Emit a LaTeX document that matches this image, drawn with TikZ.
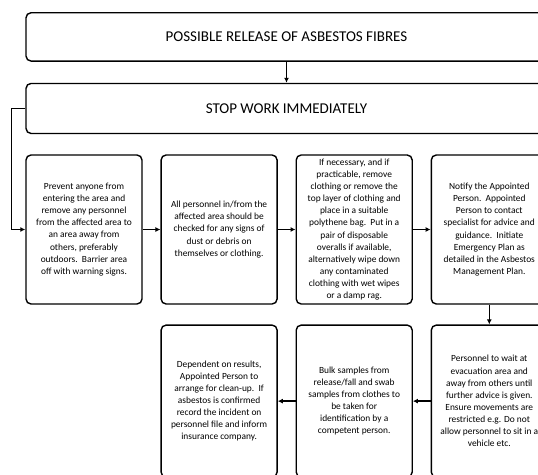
\documentclass[tikz,border=0pt]{standalone}
\usepackage{fontspec}
\setmainfont{Carlito}
\usetikzlibrary{positioning}
\usetikzlibrary{arrows.meta}
\tikzstyle{every node}=[font=\fontsize{9.4}{12.1}\selectfont, align=center, inner sep=2pt]
\tikzstyle{stepbox}=[draw, line width=1.4pt, rounded corners=5pt, minimum width=116pt, minimum height=149pt]
\tikzstyle{banner}=[draw, line width=1.4pt, rounded corners=5pt, minimum width=521pt, font=\fontsize{15}{18}\selectfont]
\tikzstyle{flow}=[-{Latex[length=5pt,width=5pt]}, line width=1.3pt]

\begin{document}
\begin{tikzpicture}[x=1pt, y=-1pt]
    \useasboundingbox (0, 0) rectangle (538, 474);
    % headers
    \node[banner, minimum height=48.3pt] (release) at (286.5, 36.9) {POSSIBLE RELEASE OF ASBESTOS FIBRES};
    \node[banner, minimum height=50pt, below=21pt of release] (stop) {STOP WORK IMMEDIATELY};
    % first row
    \node[stepbox] (prevent) at (84, 229.5) {Prevent anyone from\\ entering the area and\\ remove any personnel\\ from the affected area to\\ an area away from\\ others, preferably\\ outdoors.\ \ Barrier area\\ off with warning signs.};
    \node[stepbox, right=17.7pt of prevent] (check) {All personnel in/from the\\ affected area should be\\ checked for any signs of\\ dust or debris on\\ themselves or clothing.};
    \node[stepbox, right=17.7pt of check] (clothing) {If necessary, and if\\ practicable, remove\\ clothing or remove the\\ top layer of clothing and\\ place in a suitable\\ polythene bag.\ \ Put in a\\ pair of disposable\\ overalls if available,\\ alternatively wipe down\\ any contaminated\\ clothing with wet wipes\\ or a damp rag.};
    \node[stepbox, right=17.7pt of clothing] (notify) {Notify the Appointed\\ Person.\ \ Appointed\\ Person to contact\\ specialist for advice and\\ guidance.\ \ Initiate\\ Emergency Plan as\\ detailed in the Asbestos\\ Management Plan.};
    % second row
    \node[stepbox, minimum height=152pt, below=19.7pt of notify] (wait) {Personnel to wait at\\ evacuation area and\\ away from others until\\ further advice is given.\\ Ensure movements are\\ restricted e.g. Do not\\ allow personnel to sit in a\\ vehicle etc.};
    \node[stepbox, minimum height=152pt, left=17.7pt of wait] (samples) {Bulk samples from\\ release/fall and swab\\ samples from clothes to\\ be taken for\\ identification by a\\ competent person.};
    \node[stepbox, minimum height=152pt, left=17.7pt of samples] (cleanup) {Dependent on results,\\ Appointed Person to\\ arrange for clean-up.\ \ If\\ asbestos is confirmed\\ record the incident on\\ personnel file and inform\\ insurance company.};
    % connectors
    \draw[flow] (release) -- (stop);
    \draw[flow] (stop.west) -- ++(-14, 0) |- (prevent.west);
    \draw[flow] (prevent) -- (check);
    \draw[flow] (check) -- (clothing);
    \draw[flow] (clothing) -- (notify);
    \draw[flow] (notify) -- (wait);
    \draw[flow] (wait) -- (samples);
    \draw[flow] (samples) -- (cleanup);
\end{tikzpicture}
\end{document}
